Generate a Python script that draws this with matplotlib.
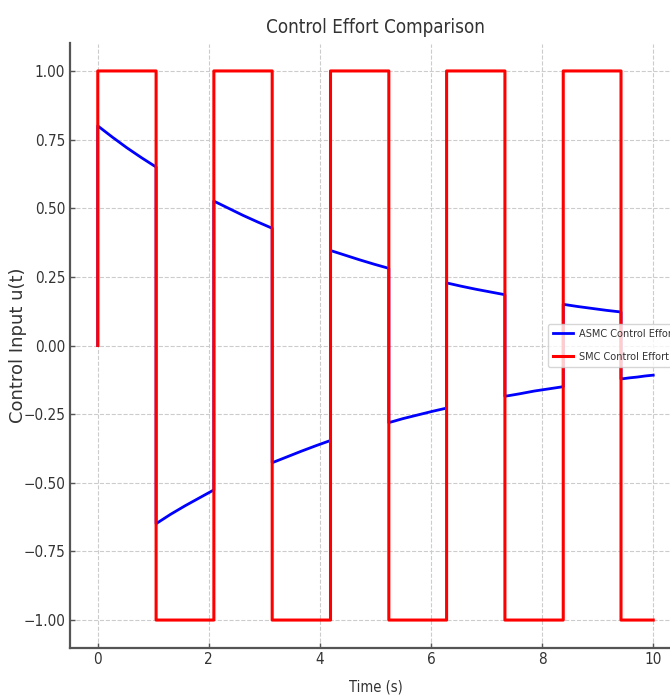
import matplotlib
matplotlib.use("Agg")
import matplotlib.pyplot as plt

# ---- data ----
switch_times = [0.0, 1.05, 2.09, 3.14, 4.19, 5.24, 6.28, 7.33, 8.38, 9.42, 10.0]
smc_levels = [1, -1, 1, -1, 1, -1, 1, -1, 1, -1]
# ASMC values at 0, 1/4, 1/2, 3/4 and the end of each switching interval
asmc_q0 = [0.800, -0.649, 0.526, -0.427, 0.346, -0.281, 0.228, -0.185, 0.150, -0.122]
asmc_q1 = [0.759, -0.615, 0.500, -0.406, 0.329, -0.266, 0.216, -0.176, 0.142, -0.118]
asmc_q2 = [0.720, -0.584, 0.474, -0.385, 0.312, -0.253, 0.205, -0.166, 0.135, -0.115]
asmc_q3 = [0.684, -0.555, 0.450, -0.365, 0.296, -0.240, 0.195, -0.158, 0.128, -0.111]
asmc_q4 = [0.650, -0.526, 0.427, -0.346, 0.281, -0.228, 0.185, -0.150, 0.122, -0.108]
initial_value = 0.0
x_ticks = [0, 2, 4, 6, 8, 10]
y_ticks = [-1.0, -0.75, -0.5, -0.25, 0.0, 0.25, 0.5, 0.75, 1.0]
y_tick_labels = ["−1.00", "−0.75", "−0.50", "−0.25", "0.00", "0.25", "0.50", "0.75", "1.00"]

# ---- build traces ----
t_asmc, u_asmc = [0.0], [initial_value]
t_smc, u_smc = [0.0], [initial_value]
for i in range(len(smc_levels)):
    ts, te = switch_times[i], switch_times[i + 1]
    d = (te - ts) / 4
    t_asmc += [ts, ts + d, ts + 2 * d, ts + 3 * d, te]
    u_asmc += [asmc_q0[i], asmc_q1[i], asmc_q2[i], asmc_q3[i], asmc_q4[i]]
    t_smc += [ts, te]
    u_smc += [smc_levels[i], smc_levels[i]]

plt.rcParams['font.family'] = ['DejaVu Sans']
plt.rcParams['font.stretch'] = 'condensed'

W, H = 670, 697
fig = plt.figure(figsize=(W / 100, H / 100), dpi=100)
ax = fig.add_axes([70 / W, 1 - 647.5 / H, (681 - 70) / W, (647.5 - 43.5) / H])

ax.plot(t_asmc, u_asmc, color='#0000ff', lw=2.0, label='ASMC Control Effort', snap=False)
ax.plot(t_smc, u_smc, color='#ff0000', lw=2.2, label='SMC Control Effort', snap=False)

ax.set_xlim(-0.5, 10.5)
ax.set_ylim(-1.1, 1.1)
ax.set_xticks(x_ticks)
ax.set_yticks(y_ticks)
ax.set_yticklabels(y_tick_labels)

ax.grid(True, linestyle='--', color='#cccccc', linewidth=0.8)
ax.set_axisbelow(True)
for s in ('top', 'right'):
    ax.spines[s].set_visible(False)
for s in ('left', 'bottom'):
    ax.spines[s].set_color('#555555')
    ax.spines[s].set_linewidth(1.6)
ax.tick_params(axis='both', direction='in', length=3.5, width=1, color='#555555',
               labelsize=11, labelcolor='#333333', pad=3.5)

ax.set_title('Control Effort Comparison', fontsize=13.5, color='#333333', pad=7.5)
ax.set_xlabel('Time (s)', fontsize=10.5, color='#333333')
ax.xaxis.set_label_coords(0.5, (647.5 - 679) / (647.5 - 43.5))
ax.set_ylabel('Control Input u(t)', fontsize=13, color='#333333', fontstretch='normal')
ax.yaxis.set_label_coords((27 - 70) / (681 - 70), 0.5)

leg = ax.legend(loc='center left', bbox_to_anchor=(548 / W, 1 - 345.5 / H),
                bbox_transform=fig.transFigure, fontsize=7.8, handlelength=1.85,
                handletextpad=0.55, borderpad=0.5, labelspacing=1.15,
                borderaxespad=0, framealpha=0.8, edgecolor='#cccccc')
for txt in leg.get_texts():
    txt.set_color('#333333')

fig.savefig('out.png', dpi=100)
